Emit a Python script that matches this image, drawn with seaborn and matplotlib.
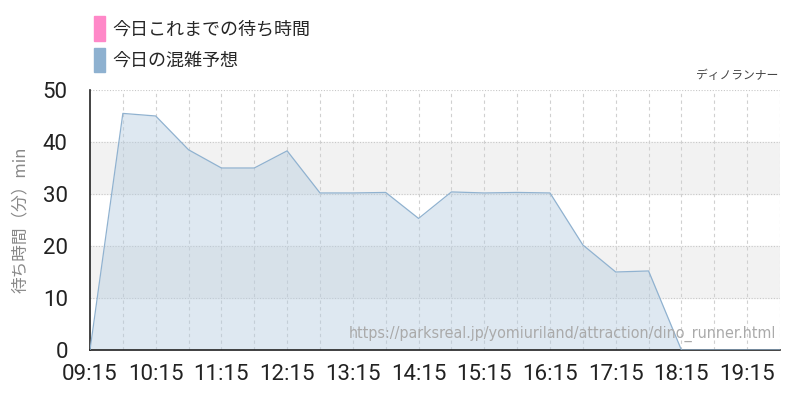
import numpy as np
import pandas as pd
import seaborn as sns
import matplotlib.pyplot as plt
from matplotlib.patches import Patch

# forecast wait time, every 30 min
times = ['09:15', '09:45', '10:15', '10:45', '11:15', '11:45', '12:15', '12:45',
         '13:15', '13:45', '14:15', '14:45', '15:15', '15:45', '16:15', '16:45',
         '17:15', '17:45', '18:15', '18:45', '19:15', '19:45']
forecast = [0, 45.5, 45, 38.5, 35, 35, 38.3, 30.2, 30.2, 30.3, 25.3, 30.4,
            30.2, 30.3, 30.2, 20.2, 15, 15.2, 0, 0, 0, 0]
tick_labels = ['09:15', '10:15', '11:15', '12:15', '13:15', '14:15',
               '15:15', '16:15', '17:15', '18:15', '19:15']
legend_labels = ['今日これまでの待ち時間', '今日の混雑予想']

def to_h(t):
    h, m = t.split(':')
    return int(h) + int(m) / 60

df = pd.DataFrame({'hour': [to_h(t) for t in times], 'wait': forecast})

sns.set_style('white')
plt.rcParams['font.family'] = ['Noto Sans CJK JP', 'DejaVu Sans']

fig = plt.figure(figsize=(8, 4), dpi=100)
ax = fig.add_axes([0.1125, 0.125, 0.8625, 0.65])

# bands
ax.axhspan(10, 20, color='#f2f2f2', zorder=0)
ax.axhspan(30, 40, color='#f2f2f2', zorder=0)

for v in range(10, 51, 10):
    ax.axhline(v, color='#c8c8c8', lw=0.8, ls=(0, (1, 1.5)), zorder=1)
for h in df['hour'][1:]:
    ax.axvline(h, color='#d0d0d0', lw=0.8, ls=(0, (3, 3)), zorder=1)

ax.fill_between(df['hour'], df['wait'], color='#b7cde0', alpha=0.45, lw=0, zorder=2)
sns.lineplot(data=df, x='hour', y='wait', ax=ax, color='#90b2d0', lw=0.9, zorder=3)

ax.set_xlim(9.25, 19.75)
ax.set_ylim(0, 50)
ax.set_xticks([to_h(t) for t in tick_labels])
ax.set_xticklabels(tick_labels)
ax.set_yticks(range(0, 51, 10))
for lab in ax.get_xticklabels() + ax.get_yticklabels():
    lab.set_family(['Roboto', 'DejaVu Sans'])
    lab.set_stretch('condensed')
    lab.set_fontsize(16)
    lab.set_color('#222222')
ax.tick_params(axis='both', length=14, color='#bbbbbb', width=0.8, pad=2)
ax.tick_params(axis='x', length=8)
ax.set_xlabel('')
ax.set_ylabel('待ち時間（分）min', color='#888888', fontsize=12)
ax.yaxis.set_label_coords(-0.088, 0.5)

for s in ['top', 'right']:
    ax.spines[s].set_visible(False)
ax.spines['left'].set_color('#222222')
ax.spines['bottom'].set_color('#222222')
ax.spines['left'].set_linewidth(1.2)
ax.spines['bottom'].set_linewidth(1.2)

fig.text(0.973, 0.795, 'ディノランナー', ha='right', va='bottom', fontsize=8.5, color='#444444')
ax.text(0.995, 0.03, 'https://parksreal.jp/yomiuriland/attraction/dino_runner.html',
        transform=ax.transAxes, ha='right', va='bottom', fontsize=11.5,
        color='#aaaaaa', family='DejaVu Sans', stretch='condensed', zorder=4)

handles = [Patch(color='#ff88c8'), Patch(color='#8eb1d0')]
fig.legend(handles, legend_labels, loc='upper left', bbox_to_anchor=(0.097, 1.0),
           frameon=False, fontsize=13, handlelength=0.6, handleheight=1.7,
           handletextpad=0.45, labelspacing=0.4)

fig.savefig('out.png', dpi=100)
